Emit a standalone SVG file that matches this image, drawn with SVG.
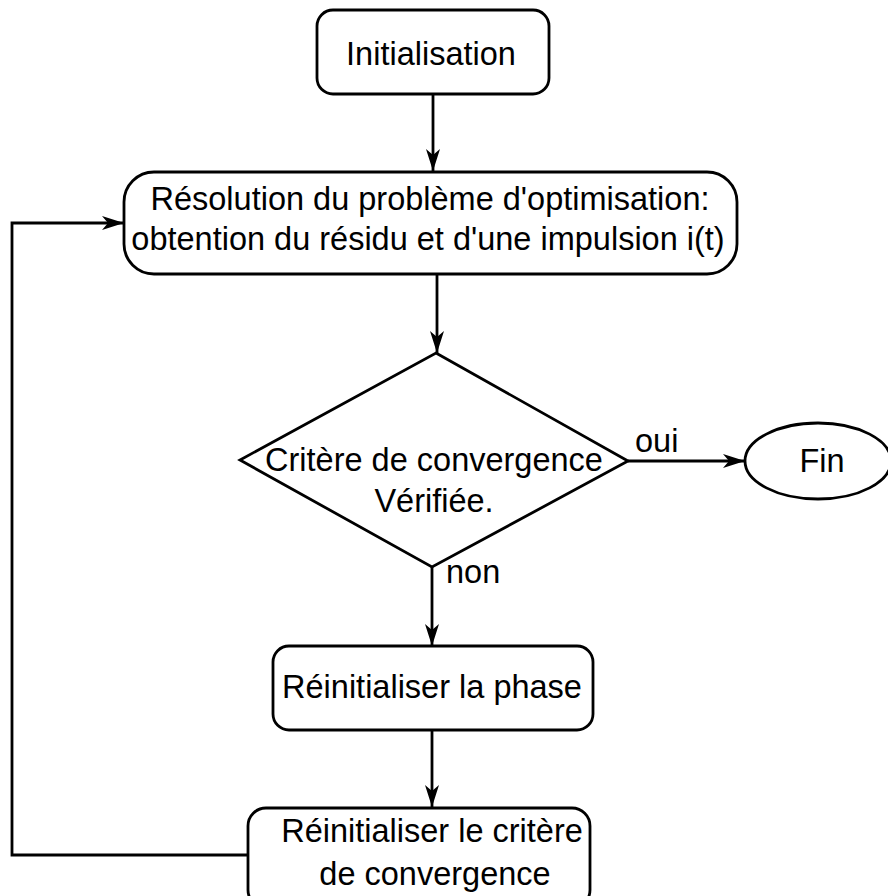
<svg xmlns="http://www.w3.org/2000/svg" width="888" height="896" viewBox="0 0 888 896">
<style>
.box{fill:#fff;stroke:#000;stroke-width:2.8}
.t{font-family:"Liberation Sans",Arial,sans-serif;font-size:32.5px;fill:#000;text-anchor:middle}
.lbl{font-family:"Liberation Sans",Arial,sans-serif;font-size:32.5px;fill:#000}
.c{fill:none;stroke:#000;stroke-width:2.8}
</style>
<defs>
<marker id="ah" markerUnits="userSpaceOnUse" markerWidth="24" markerHeight="16" refX="22" refY="7" orient="auto" overflow="visible">
<path d="M0,0 L22,7 L0,14 L6,7 z" fill="#000"/>
</marker>
</defs>
<rect width="888" height="896" fill="#fff"/>
<g id="connectors">
<path class="c" d="M433,94 V171" marker-end="url(#ah)"/>
<path class="c" d="M437,274 V353" marker-end="url(#ah)"/>
<path class="c" d="M628,461 H745" marker-end="url(#ah)"/>
<path class="c" d="M432,567 V646" marker-end="url(#ah)"/>
<path class="c" d="M432,730 V807" marker-end="url(#ah)"/>
<path class="c" d="M248,855 H12 V223 H124" marker-end="url(#ah)"/>
<text class="lbl" x="635" y="452">oui</text>
<text class="lbl" x="446" y="583">non</text>
</g>
<g id="initialisation">
<rect class="box" x="317" y="10" width="232" height="84" rx="16"/>
<text class="t" x="431" y="65">Initialisation</text>
</g>
<g id="resolution">
<rect class="box" x="124" y="172" width="613" height="102" rx="30"/>
<text class="t" x="430" y="210">Résolution du problème d'optimisation:</text>
<text class="t" x="428" y="250">obtention du résidu et d'une impulsion i(t)</text>
</g>
<g id="critere">
<polygon class="box" points="436,353 628,461 432,567 240,460"/>
<text class="t" x="434" y="471">Critère de convergence</text>
<text class="t" x="434" y="512">Vérifiée.</text>
</g>
<g id="fin">
<ellipse class="box" cx="818" cy="461" rx="73" ry="38"/>
<text class="t" x="822" y="472">Fin</text>
</g>
<g id="phase">
<rect class="box" x="273" y="646" width="320" height="84" rx="16"/>
<text class="t" x="432" y="698">Réinitialiser la phase</text>
</g>
<g id="reinit-critere">
<rect class="box" x="248" y="808" width="342" height="100" rx="18"/>
<text class="t" x="432" y="842">Réinitialiser le critère</text>
<text class="t" x="435" y="885">de convergence</text>
</g>
</svg>
